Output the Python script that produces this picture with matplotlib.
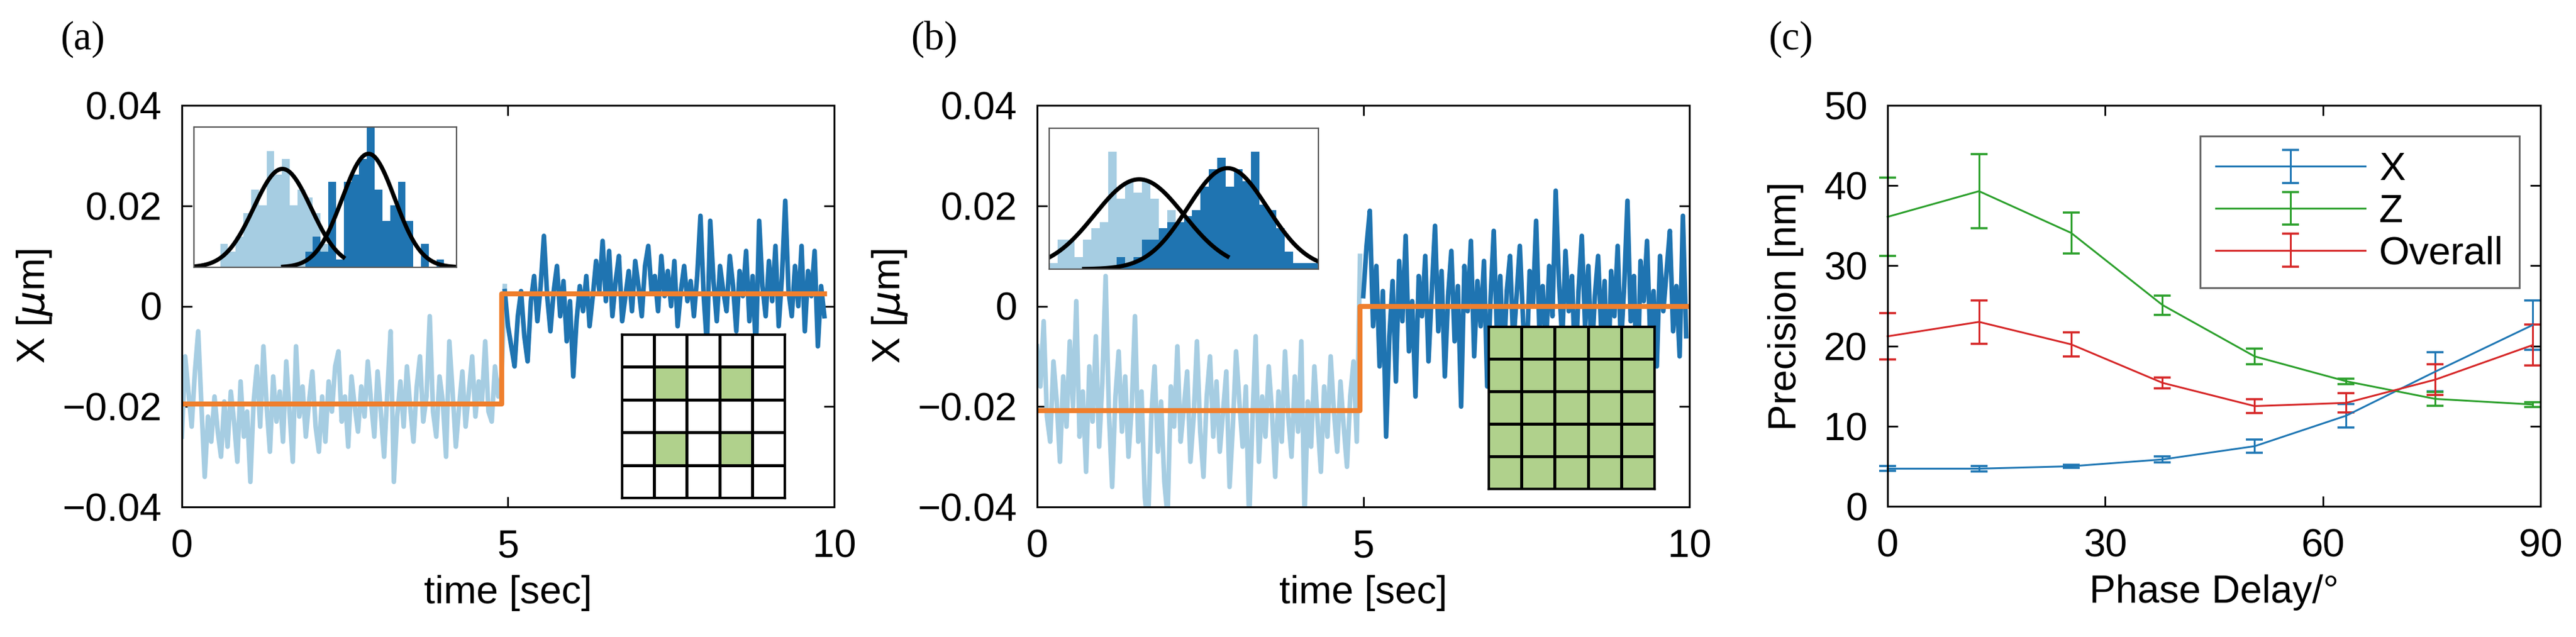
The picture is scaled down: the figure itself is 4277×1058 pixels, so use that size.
import numpy as np
import matplotlib
matplotlib.use("Agg")
import matplotlib.pyplot as plt
from matplotlib.colors import ListedColormap
from matplotlib.container import ErrorbarContainer
from matplotlib.legend_handler import HandlerErrorbar

plt.rcParams['font.family'] = ['Liberation Sans', 'DejaVu Sans']
plt.rcParams['axes.linewidth'] = 2.2

LIGHT = '#a6cde2'
DARK = '#1f74b1'
ORANGE = '#ef7f2d'
GREEN = '#b0d18c'
FS = 47

# ---------------- data: panel (a) ----------------
# trace values in units of 1e-3 um, sampled every 0.05 s
a_light_t0 = 0.0
a_light = [-26, -10, -17, -24, -13, -5, -20, -34, -22, -27, -18, -25, -30, -19, -28, -17, -23, -31, -15, -26,
           -21, -35, -19, -12, -24, -8, -20, -29, -14, -23, -17, -27, -11, -21, -31, -8, -22, -16, -26, -19,
           -13, -24, -29, -18, -27, -15, -21, -12, -9, -23, -18, -28, -14, -20, -25, -16, -22, -11, -19, -26,
           -13, -21, -30, -17, -5, -35, -22, -15, -24, -12, -20, -27, -16, -10, -23, -18, -2, -21, -26, -14,
           -19, -30, -7, -17, -28, -20, -13, -24, -17, -10, -22, -15, -19, -7, -21, -23, -12, -18, -14, 4]
a_dark_t0 = 4.95
a_dark = [3, -4, -8, -12, -2, 3, -6, -11, 1, 6, -3, 4, 14, 2, -5, 3, 8, -2, 5, -7,
          1, -14, -3, 4, -1, 6, -4, 2, 9, 3, 13, 1, 11, -2, 5, 10, -3, 2, 7, -1,
          9, 4, -2, 8, 12, 3, 6, -1, 10, 2, 7, 0, 9, -4, 3, 8, 1, 5, -2, 6,
          18, 2, -8, 17, 5, -3, 8, 3, -1, 10, 4, -5, 7, 2, 11, -3, 6, -9, 17, 4,
          -2, 9, 1, 12, -4, 6, 21, 3, -2, 8, 0, 12, -5, 7, 2, 11, -8, 4, -2]
a_step_t = [0.0, 4.9, 4.9, 9.85]
a_step_x = [-19.5, -19.5, 2.5, 2.5]

# histogram inset (a): counts per 0.002 um bin
a_hist_light_start = -0.0355
a_hist_light = [3, 2, 4, 7, 10, 8, 15, 12, 14, 8, 10, 9, 7, 3, 1]
a_hist_dark_start = -0.0135
a_hist_dark = [2, 4, 2, 11, 1, 11, 12, 14, 18, 10, 6, 8, 11, 6, 0, 3, 0, 1]
a_fit_light = dict(mu=-0.0194, sigma=0.0074, amp=12.7, lo=-0.0423, hi=-0.0036)
a_fit_dark = dict(mu=0.0029, sigma=0.0068, amp=14.65, lo=-0.0192, hi=0.0257)
a_hist_xlim = (-0.0423, 0.0257)
a_hist_ylim = (0, 18.1)
a_pattern = [[0, 0, 0, 0, 0],
             [0, 1, 0, 1, 0],
             [0, 0, 0, 0, 0],
             [0, 1, 0, 1, 0],
             [0, 0, 0, 0, 0]]

# ---------------- data: panel (b) ----------------
b_light_t0 = 0.0
b_light = [-8, -16, -3, -22, -27, -11, -19, -31, -14, -24, -7, -20, 1, -26, -17, -33, -12, -23, -6, -28,
           -15, 6, -21, -36, -18, -9, -25, -14, -30, -20, -2, -27, -17, -38, -44, -22, -12, -29, -19, -35,
           -42, -16, -24, -8, -27, -20, -13, -31, -22, -7, -25, -34, -18, -10, -26, -15, -29, -21, -13, -36,
           -24, -9, -19, -28, -16, -43, -23, -6, -31, -18, -26, -12, -21, -34, -17, -27, -9, -22, -30, -14,
           -25, -7, -42, -19, -28, -12, -23, -33, -16, -26, -10, -21, -29, -15, -24, -32, -18, -11, -27, 10]
b_dark_t0 = 5.0
b_dark = [2, 12, 19, -4, 8, -12, 3, -26, -6, 5, -15, 9, -3, 14, -9, 1, -18, 6, -2, 10,
          -11, 3, 16, -5, 7, -14, 2, 11, -7, 4, -20, 8, -1, 13, -10, 5, -4, 9, -16, 1,
          15, -6, 6, -12, 3, 10, -8, 2, 12, -3, -13, 7, 0, 17, -5, 4, -9, 8, -2, 23,
          5, -7, 11, -1, 6, -14, 3, 14, -4, 8, -11, 2, 10, -6, 5, -17, 7, -2, 12, -8,
          4, 21, -3, 6, -19, 9, 1, 13, -7, 3, -12, 10, -1, 7, 15, -5, 4, -10, 18, -6]
b_step_t = [0.0, 4.95, 4.95, 9.95]
b_step_x = [-20.8, -20.8, 0.0, 0.0]

b_hist_light_start = -0.0424
b_hist_light = [1, 5, 5, 2, 5, 7, 8, 20, 12, 15, 13, 15, 12, 5, 10, 7, 4, 1]
b_hist_dark_start = -0.0264
b_hist_dark = [2, 1, 2, 5, 5, 7, 8, 8, 9, 10, 14, 17, 19, 14, 17, 15, 20, 11, 10, 7, 3, 1, 1, 1]
b_fit_light = dict(mu=-0.021, sigma=0.0106, amp=15.3, lo=-0.0424, hi=0.0)
b_fit_dark = dict(mu=0.0, sigma=0.0095, amp=17.2, lo=-0.0341, hi=0.0216)
b_hist_xlim = (-0.0424, 0.0216)
b_hist_ylim = (0, 24)
b_pattern = [[1] * 5 for _ in range(5)]

# ---------------- data: panel (c) ----------------
phase = [0, 12.6, 25.3, 37.9, 50.6, 63.2, 75.5, 88.9]
prec_x = [4.7, 4.7, 5.0, 5.85, 7.5, 11.3, 16.8, 22.6]
err_x = [0.3, 0.35, 0.2, 0.4, 0.8, 1.45, 2.45, 3.05]
prec_z = [36.1, 39.3, 34.1, 25.1, 18.7, 15.6, 13.4, 12.7]
err_z = [4.9, 4.6, 2.55, 1.2, 0.95, 0.35, 0.85, 0.3]
prec_all = [21.2, 23.0, 20.2, 15.4, 12.5, 12.9, 15.8, 20.1]
err_all = [2.9, 2.7, 1.5, 0.7, 0.9, 1.2, 1.9, 2.55]

W, H = 4277, 1058
fig = plt.figure(figsize=(W / 100, H / 100), dpi=100)


def px_axes(x0, y0, x1, y1):
    return fig.add_axes([x0 / W, 1 - y1 / H, (x1 - x0) / W, (y1 - y0) / H])


def style(ax):
    ax.tick_params(direction='in', top=True, right=True, length=12, width=2,
                   labelsize=FS, color='k')
    ax.tick_params(axis='x', pad=26)
    ax.tick_params(axis='y', pad=24)
    for s in ax.spines.values():
        s.set_color('k')


def trace_panel(ax, light_t0, light, dark_t0, dark, step_t, step_x):
    tl = light_t0 + 0.05 * np.arange(len(light))
    td = dark_t0 + 0.05 * np.arange(len(dark))
    ax.plot(tl, np.array(light) * 1e-3, color=LIGHT, lw=5.5)
    ax.plot(td, np.array(dark) * 1e-3, color=DARK, lw=5.5)
    ax.plot(step_t, np.array(step_x) * 1e-3, color=ORANGE, lw=6)
    ax.set_xlim(0, 10)
    ax.set_ylim(-0.04, 0.04)
    ax.set_xticks([0, 5, 10])
    ax.set_xticklabels(['0', '5', '10'])
    ax.set_yticks([-0.04, -0.02, 0, 0.02, 0.04])
    ax.set_yticklabels(['\u22120.04', '\u22120.02', '0', '0.02', '0.04'])
    ax.set_xlabel('time [sec]', fontsize=FS, labelpad=12)
    ax.set_ylabel('X [$\\mu$m]', fontsize=FS, labelpad=10)
    style(ax)


def gauss(f):
    x = np.linspace(f['lo'], f['hi'], 200)
    return x, f['amp'] * np.exp(-(x - f['mu']) ** 2 / (2 * f['sigma'] ** 2))


def hist_inset(ax, ls, lc, ds, dc, fl, fd, xlim, ylim):
    bw = 0.002
    ax.bar(ls + bw * np.arange(len(lc)), lc, width=bw, align='edge', color=LIGHT, lw=0)
    x, y = gauss(fl)
    ax.plot(x, y, color='k', lw=5)
    ax.bar(ds + bw * np.arange(len(dc)), dc, width=bw, align='edge', color=DARK, lw=0)
    x, y = gauss(fd)
    ax.plot(x, y, color='k', lw=5)
    ax.set_xlim(*xlim)
    ax.set_ylim(*ylim)
    ax.set_xticks([])
    ax.set_yticks([])
    for s in ax.spines.values():
        s.set_color('#555555')
        s.set_linewidth(1.6)


def grid_inset(ax, pattern):
    ax.pcolormesh(np.array(pattern)[::-1], cmap=ListedColormap(['white', GREEN]),
                  vmin=0, vmax=1, edgecolors='k', linewidth=2.4)
    ax.set_xticks([])
    ax.set_yticks([])
    for s in ax.spines.values():
        s.set_linewidth(2.4)


# panel (a)
ax_a = px_axes(302, 175, 1385, 842)
trace_panel(ax_a, a_light_t0, a_light, a_dark_t0, a_dark, a_step_t, a_step_x)
hist_inset(px_axes(322, 211, 758, 444), a_hist_light_start, a_hist_light,
           a_hist_dark_start, a_hist_dark, a_fit_light, a_fit_dark, a_hist_xlim, a_hist_ylim)
grid_inset(px_axes(1032, 555, 1303, 827), a_pattern)

# panel (b)
ax_b = px_axes(1722, 175, 2805, 842)
trace_panel(ax_b, b_light_t0, b_light, b_dark_t0, b_dark, b_step_t, b_step_x)
hist_inset(px_axes(1742, 213, 2189, 447), b_hist_light_start, b_hist_light,
           b_hist_dark_start, b_hist_dark, b_fit_light, b_fit_dark, b_hist_xlim, b_hist_ylim)
grid_inset(px_axes(2471, 542, 2747, 812), b_pattern)

# panel (c)
ax_c = px_axes(3134, 175, 4218, 841)
for y, e, c, lab in [(prec_x, err_x, '#1f77b4', 'X'),
                     (prec_z, err_z, '#2ca02c', 'Z'),
                     (prec_all, err_all, '#d62728', 'Overall')]:
    ax_c.errorbar(phase, y, yerr=e, color=c, lw=2.2, elinewidth=2.2, capsize=10,
                  capthick=2.6, label=lab, clip_on=False)
ax_c.set_xlim(0, 90)
ax_c.set_ylim(0, 50)
ax_c.set_xticks([0, 30, 60, 90])
ax_c.set_yticks([0, 10, 20, 30, 40, 50])
ax_c.set_xlabel('Phase Delay/\u00b0', fontsize=FS, labelpad=12)
ax_c.set_ylabel('Precision [nm]', fontsize=FS, labelpad=24)
style(ax_c)
leg = ax_c.legend(loc='upper right', bbox_to_anchor=(1 - 35 / 1084, 1 - 51 / 666),
                  borderaxespad=0, fontsize=FS, handlelength=3.8, handletextpad=0.35,
                  labelspacing=0.15, borderpad=0.4, fancybox=False,
                  handler_map={ErrorbarContainer: HandlerErrorbar(yerr_size=0.42)})
leg.get_frame().set_edgecolor('#444444')
leg.get_frame().set_linewidth(2.2)

for x, lab in [(100, '(a)'), (1512, '(b)'), (2936, '(c)')]:
    fig.text(x / W, 1 - 34 / H, lab, va='top', ha='left', fontsize=48,
             family=['Liberation Serif', 'DejaVu Serif'])

fig.savefig('out.png', dpi=100, facecolor='white')
